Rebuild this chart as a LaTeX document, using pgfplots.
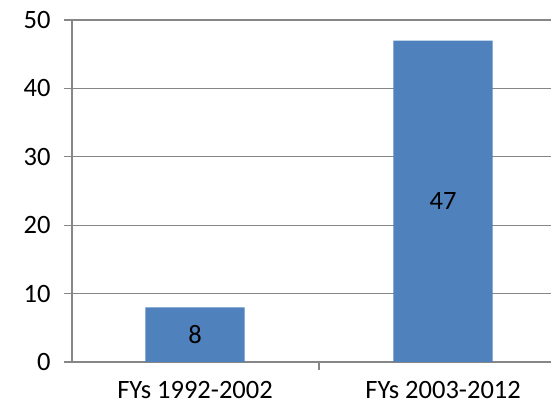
\documentclass[border=0pt]{standalone}
\usepackage{pgfplots}
\pgfplotsset{compat=1.18}
\usepackage{fontspec}
\setmainfont{Carlito}
\definecolor{barblue}{HTML}{4F81BD}
\definecolor{gridgray}{HTML}{868686}
\begin{document}
\begin{tikzpicture}
\useasboundingbox (-72pt,-47pt) rectangle (479pt,362pt);
\begin{axis}[
  at={(0,0)}, anchor=south west,
  scale only axis, width=479pt, height=342pt,
  xmin=-0.496, xmax=1.435, ymin=0, ymax=50,
  axis lines=left, axis line style={-, draw=gridgray, line width=1.2pt},
  ytick={0,10,20,30,40,50},
  ymajorgrids, grid style={draw=gridgray, line width=1.2pt},
  tick align=outside,
  major tick length=8pt,
  ytick style={draw=gridgray, line width=1.2pt},
  xtick={0,1}, xticklabels={FYs 1992-2002, FYs 2003-2012},
  xtick style={draw=none},
  extra x ticks={0.5}, extra x tick labels={},
  extra x tick style={xtick style={draw=gridgray, line width=1.2pt}, major tick length=8pt},
  tick label style={font=\fontsize{26.5}{30}\selectfont, text=black},
  /pgf/number format/assume math mode=true,
  xticklabel style={yshift=-8pt},
  yticklabel style={xshift=-10pt},
  clip=false,
]
\addplot[ybar, bar width=0.4, fill=barblue, draw=none] coordinates {(0,8) (1,47)};
\addplot[only marks, mark=none, nodes near coords, point meta=explicit symbolic,
  every node near coord/.style={anchor=center, font=\fontsize{26.5}{30}\selectfont, text=black}]
  coordinates {(0,4) [8] (1,23.5) [47]};
\end{axis}
\end{tikzpicture}
\end{document}
